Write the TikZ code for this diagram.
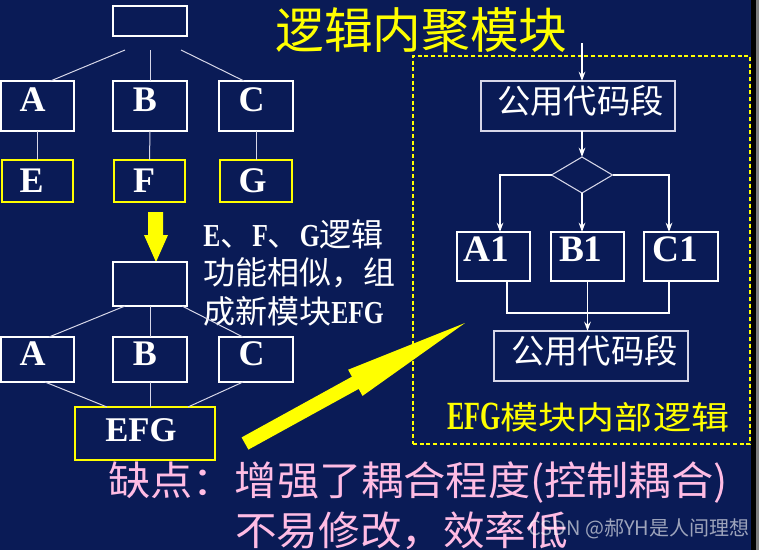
\documentclass[tikz,border=0pt]{standalone}
\usepackage{fontspec}
\usepackage{graphicx}
\setmainfont{Liberation Serif}
\newfontfamily\cjk{Noto Sans CJK SC}
\usetikzlibrary{shapes.geometric,arrows.meta,calc}
\definecolor{bg}{RGB}{10,27,86}
\definecolor{pinkt}{RGB}{255,188,228}
\definecolor{ylw}{RGB}{255,255,0}
\definecolor{lnc}{RGB}{215,215,232}
\newcommand\pbox[6]{\node[#6, minimum width={(#4-#2)*0.75pt}, minimum height={(#5-#3)*0.75pt}] (#1) at ({(#2+#4)/2},{(#3+#5)/2}) {};}
\newcommand\lt[2][0.8]{\scalebox{#1}[1]{\rmfamily\bfseries #2}}
\begin{document}
\begin{tikzpicture}[x=0.75pt,y=-0.75pt,
  wbox/.style={draw=white, line width=1.1pt, inner sep=0pt, outer sep=0pt},
  gbox/.style={draw=lnc, line width=1.5pt, inner sep=0pt, outer sep=0pt},
  ybox/.style={draw=ylw, line width=2pt, inner sep=0pt, outer sep=0pt},
  frame/.style={draw=ylw, line width=0.8pt, dash pattern=on 3pt off 2pt, inner sep=0pt, outer sep=0pt},
  conn/.style={draw=lnc, line width=0.75pt},
  flow/.style={draw=white, line width=1pt},
  arr/.style={flow, -{Stealth[length=7pt,width=5pt,inset=2.5pt]}},
  lat/.style={text=white, font=\rmfamily\bfseries\fontsize{27}{27}\selectfont, inner sep=0pt},
  latb/.style={text=white, font=\rmfamily\bfseries\fontsize{28}{28}\selectfont, inner sep=0pt},
  cjkw/.style={text=white, font=\cjk\fontsize{24}{24}\selectfont, inner sep=0pt, anchor=west},
  code/.style={text=white, font=\cjk\fontsize{25}{25}\selectfont, inner sep=0pt},
  pinkline/.style={text=pinkt, font=\cjk\fontsize{30}{30}\selectfont, inner sep=0pt, anchor=west}
]
\useasboundingbox (0,0) rectangle (759,550);
\fill[bg] (0,0) rectangle (759,550);
\fill[black] (751,0) rectangle (756,550);
\fill[gray] (756,0) rectangle (759,550);

% title
\node[text=ylw, font=\cjk\fontsize{36.5}{36.5}\selectfont, inner sep=0pt] (title) at (421.5,30) {逻辑内聚模块};

% ---------- top-left tree ----------
\pbox{T1}{113}{6}{187}{36}{wbox}
\pbox{tbA}{1}{81}{74}{131}{wbox}
\pbox{tbB}{113}{81}{187}{131}{wbox}
\pbox{tbC}{219}{81}{293}{131}{wbox}
\pbox{tbE}{2}{160}{73}{202}{ybox}
\pbox{tbF}{114}{160}{185}{202}{ybox}
\pbox{tbG}{220}{160}{292}{202}{ybox}
\draw[conn] ($(T1.south)+(-25,14)$) -- ($(tbA.north)+(13,0)$);
\draw[conn] ($(T1.south)+(0,14)$) -- (tbB.north);
\draw[conn] ($(T1.south)+(31,14)$) -- ($(tbC.north)+(-12,0)$);
\draw[conn] (tbA.south) -- (tbE.north);
\draw[conn] (tbB.south) -- (tbF.north);
\draw[conn] (tbC.south) -- (tbG.north);
\node[lat] (lA) at (32.5,99.5) {A};
\node[lat] (lB) at (145,99.5) {B};
\node[lat] (lC) at (251.7,99.5) {C};
\node[lat] (lE) at (31.7,181) {E};
\node[lat] (lF) at (144,181) {F};
\node[lat] (lG) at (252.5,181) {G};

% down arrow
\fill[ylw] (148,212) -- (163,212) -- (163,235) -- (168,235) -- (156,262) -- (144,235) -- (148,235) -- cycle;

% explanation text
\node[cjkw] (x1) at (203,234) {\lt{E}、\lt{F}、\lt{G}逻辑};
\node[cjkw] (x2) at (203,272.5) {功能相似，组};
\node[cjkw] (x3) at (203,311.7) {成新模块\lt{EFG}};

% ---------- lower-left tree ----------
\pbox{T2}{113}{262}{187}{306}{wbox}
\pbox{lbA}{1}{337}{74}{382}{wbox}
\pbox{lbB}{113}{337}{187}{382}{wbox}
\pbox{lbC}{219}{337}{293}{382}{wbox}
\pbox{EFG}{75}{407}{215}{460}{ybox}
\draw[conn] ($(T2.south)+(-25,0)$) -- ($(lbA.north)+(11.5,0)$);
\draw[conn] (T2.south) -- (lbB.north);
\draw[conn] ($(T2.south)+(32,0)$) -- ($(lbC.north)+(-13,0)$);
\draw[conn] ($(lbA.south)+(7.5,0)$) -- ($(EFG.north)+(-38,0)$);
\draw[conn] (lbB.south) -- (lbB.south |- EFG.north);
\draw[conn] ($(lbC.south)+(-13,0)$) -- ($(EFG.north)+(43,0)$);
\node[lat] (mA) at (32.5,354) {A};
\node[lat] (mB) at (145,354) {B};
\node[lat] (mC) at (251.7,354) {C};
\node[text=white, font=\rmfamily\bfseries\fontsize{26}{26}\selectfont, inner sep=0pt] (lEFG) at (141,430) {EFG};

% ---------- right flowchart ----------
\pbox{fr}{413}{56}{750}{444}{frame}
\pbox{P1}{481}{81}{675}{131}{gbox}
\node[diamond, draw=lnc, line width=0.8pt, minimum width={61*0.75pt}, minimum height={36*0.75pt}, inner sep=0pt, outer sep=0pt] (D) at (582,175) {};
\pbox{A1}{457}{232}{530}{281}{wbox}
\pbox{B1}{551}{232}{624}{281}{wbox}
\pbox{C1}{644}{232}{718}{281}{wbox}
\pbox{P2}{494}{331}{688}{381}{gbox}
\coordinate (topin) at (582,43);
\draw[arr] (topin) -- (topin |- P1.north);
\draw[arr] (P1.south -| D.north) -- (D.north);
\draw[arr] (D.west) -| ($(A1.north)+(6.5,0)$);
\draw[arr] (D.south) -- (D.south |- B1.north);
\draw[arr] (D.east) -| ($(C1.north)+(-12,0)$);
\draw[flow] ($(A1.south)+(13.5,0)$) -- ++(0,32) -| ($(C1.south)+(-12,0)$);
\draw[arr] (B1.south) -- (B1.south |- P2.north);
\node[code] (t1) at (580.5,101) {公用代码段};
\node[code] (t2) at (594.5,351) {公用代码段};
\node[latb] (tA1) at (486.7,249) {A1};
\node[latb] (tB1) at (580.8,249) {B1};
\node[latb] (tC1) at (675,249) {C1};
\node[text=ylw, inner sep=0pt, anchor=west] (cap) at (447,417.5) {\scalebox{0.65}[1]{\rmfamily\bfseries\fontsize{30}{30}\selectfont EFG}\scalebox{1.19}[1]{\cjk\fontsize{24}{24}\selectfont 模块内部逻辑}};

% big arrow
\fill[ylw] (241.6,437.4) -- (351.9,376.7) -- (348.1,369.7) -- (465,323) -- (362.5,395.9) -- (358.7,388.9) -- (248.4,449.6) -- cycle;

% bottom text
\node[pinkline] (b1) at (108,482.5) {\scalebox{1.055}[1]{缺点：增强了耦合程度(控制耦合)}};
\node[pinkline] (b2) at (235,531) {\scalebox{1.04}[1]{不易修改，效率低}};
\node[text=white, opacity=0.6, font=\cjk\fontsize{15}{15}\selectfont, inner sep=0pt, anchor=west] (wm) at (528,529) {CSDN @郝YH是人间理想};
\end{tikzpicture}
\end{document}
